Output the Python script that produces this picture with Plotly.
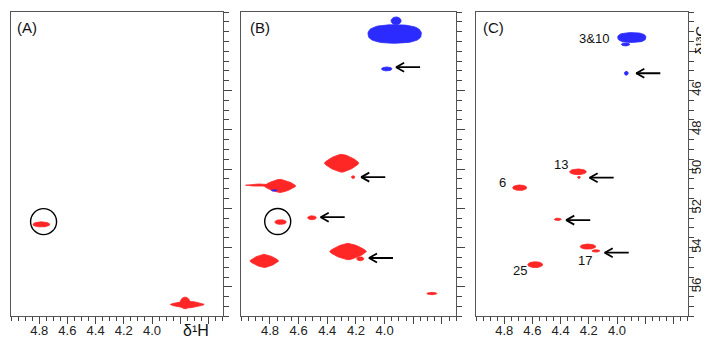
import numpy as np
import plotly.graph_objects as go

W, H = 709, 339
X_RANGE = [5.0, 3.5]
Y_RANGE = [57.5, 42.0]

panel_labels = ["(A)", "(B)", "(C)"]
x_tickvals = [4.8, 4.6, 4.4, 4.2, 4.0, 3.8, 3.6]
x_ticktext = ["4.8", "4.6", "4.4", "4.2", "4.0", "", ""]
y_tickvals = [44, 46, 48, 50, 52, 54, 56]
y_ticktext = ["", "46", "48", "50", "52", "54", "56"]

# ---- cross peaks: (dH, dC, half-width dH, half-width dC, phase) ----
# Panel A
a_h = [4.785, 3.750, 3.765]
a_c = [52.82, 56.90, 56.82]
a_wh = [0.060, 0.120, 0.035]
a_wc = [0.13, 0.18, 0.30]
a_phase = ["pos", "pos", "pos"]

# Panel B
b_h = [3.930, 3.920, 3.985, 4.300, 4.220, 4.730, 4.870, 4.770, 4.726, 4.507, 4.255, 4.170, 4.840, 3.670]
b_c = [43.12, 42.45, 44.90, 49.70, 50.41, 50.86, 50.82, 51.09, 52.70, 52.48, 54.20, 54.57, 54.68, 56.34]
b_wh = [0.186, 0.035, 0.037, 0.120, 0.012, 0.110, 0.100, 0.020, 0.040, 0.030, 0.128, 0.025, 0.100, 0.035]
b_wc = [0.47, 0.20, 0.10, 0.46, 0.07, 0.34, 0.06, 0.04, 0.12, 0.10, 0.42, 0.10, 0.34, 0.06]
b_phase = ["neg", "neg", "neg", "pos", "pos", "pos", "pos", "neg", "pos", "pos", "pos", "pos", "pos", "pos"]

# Panel C
c_h = [3.895, 3.940, 3.934, 4.277, 4.270, 4.690, 4.420, 4.206, 4.150, 4.580]
c_c = [43.30, 43.65, 45.12, 50.14, 50.42, 50.95, 52.56, 53.95, 54.17, 54.87]
c_wh = [0.100, 0.030, 0.014, 0.059, 0.010, 0.050, 0.025, 0.055, 0.028, 0.053]
c_wc = [0.25, 0.08, 0.10, 0.145, 0.06, 0.14, 0.06, 0.13, 0.06, 0.15]
c_phase = ["neg", "neg", "neg", "pos", "pos", "pos", "pos", "pos", "pos", "pos"]

# ---- arrows (tip position dH, dC) ----
b_arrow_h = [3.920, 4.163, 4.446, 4.109]
b_arrow_c = [44.81, 50.41, 52.45, 54.53]
c_arrow_h = [3.863, 4.194, 4.360, 4.087]
c_arrow_c = [45.12, 50.44, 52.60, 54.26]

# ---- circles (centre dH, dC) ----
a_circle_h = [4.769]
a_circle_c = [52.68]
b_circle_h = [4.746]
b_circle_c = [52.67]

# ---- peak assignment labels ----
c_label_text = ["3&10", "13", "6", "17", "25"]
c_label_h = [4.043, 4.396, 4.815, 4.230, 4.690]
c_label_c = [43.36, 49.77, 50.70, 54.65, 55.19]
c_label_anchor = ["right", "center", "center", "center", "center"]

# ---------------- layout geometry (pixels) ----------------
dom_px = [(3.0, 214.5), (233.3, 448.3), (468.0, 679.5)]
y_px = (4.0, 308.3)
COLORS = {"pos": "#ff2626", "neg": "#2b2bff"}

fig = go.Figure()


def sx(i):
    a, b = dom_px[i]
    return (b - a) / abs(X_RANGE[0] - X_RANGE[1])


SY = (y_px[1] - y_px[0]) / abs(Y_RANGE[0] - Y_RANGE[1])


def blob(h, c, wh, wc, phase):
    t = np.linspace(0, 2 * np.pi, 72)
    if wh <= 0.08:
        p = 1.0
    elif phase == "neg":
        p = 0.8
    else:
        p = 1.5
    ct, st = np.cos(t), np.sin(t)
    xs = h + wh * np.sign(ct) * np.abs(ct) ** p
    ys = c + wc * np.sign(st) * np.abs(st) ** p
    return xs, ys


panels = [
    (a_h, a_c, a_wh, a_wc, a_phase),
    (b_h, b_c, b_wh, b_wc, b_phase),
    (c_h, c_c, c_wh, c_wc, c_phase),
]

for i, (hh, cc, wh, wc, ph) in enumerate(panels):
    xa = "x" if i == 0 else f"x{i+1}"
    ya = "y" if i == 0 else f"y{i+1}"
    for j in range(len(hh)):
        xs, ys = blob(hh[j], cc[j], wh[j], wc[j], ph[j])
        col = COLORS[ph[j]]
        fig.add_trace(go.Scatter(
            x=xs, y=ys, xaxis=xa, yaxis=ya, mode="lines", fill="toself",
            fillcolor=col, line=dict(color=col, width=0.8),
            hoverinfo="skip", showlegend=False))

# arrows
for i, (ah, ac) in [(1, (b_arrow_h, b_arrow_c)), (2, (c_arrow_h, c_arrow_c))]:
    xa = f"x{i+1}"
    ya = f"y{i+1}"
    s = sx(i)
    L, hx, hy = 24 / s, 8 / s, 4.5 / SY
    xs, ys = [], []
    for h, c in zip(ah, ac):
        xs += [h - L, h, None, h - hx, h, h - hx, None]
        ys += [c, c, None, c - hy, c, c + hy, None]
    fig.add_trace(go.Scatter(
        x=xs, y=ys, xaxis=xa, yaxis=ya, mode="lines",
        line=dict(color="black", width=1.8), hoverinfo="skip", showlegend=False))

# circles
shapes = []
for i, (ch, cc) in [(0, (a_circle_h, a_circle_c)), (1, (b_circle_h, b_circle_c))]:
    xr = "x" if i == 0 else f"x{i+1}"
    yr = "y" if i == 0 else f"y{i+1}"
    rx, ry = 13 / sx(i), 13 / SY
    for h, c in zip(ch, cc):
        shapes.append(dict(type="circle", xref=xr, yref=yr,
                           x0=h - rx, x1=h + rx, y0=c - ry, y1=c + ry,
                           line=dict(color="black", width=1.4)))

annotations = []
FONT = "Liberation Sans, Arial, sans-serif"
for t, h, c, anc in zip(c_label_text, c_label_h, c_label_c, c_label_anchor):
    annotations.append(dict(text=t, x=h, y=c, xref="x3", yref="y3",
                            xanchor=anc, yanchor="middle", showarrow=False,
                            font=dict(family=FONT, size=13, color="#111")))

label_px = [(7, 20), (240, 20), (473, 20)]
for t, (px, py) in zip(panel_labels, label_px):
    annotations.append(dict(text=t, x=px / W, y=1 - py / H, xref="paper", yref="paper",
                            xanchor="left", yanchor="middle", showarrow=False,
                            font=dict(family=FONT, size=15, color="#111")))

annotations.append(dict(text="δ¹H", x=188 / W, y=1 - 322 / H,
                        xref="paper", yref="paper", xanchor="center", yanchor="middle",
                        showarrow=False, font=dict(family=FONT, size=16, color="#111")))
annotations.append(dict(text="δ¹³C", x=692 / W, y=1 - 33 / H, textangle=-90,
                        xref="paper", yref="paper", xanchor="center", yanchor="middle",
                        showarrow=False, font=dict(family=FONT, size=15, color="#111")))

layout = dict(
    width=W, height=H, margin=dict(l=0, r=0, t=0, b=0),
    paper_bgcolor="white", plot_bgcolor="white",
    shapes=shapes, annotations=annotations, showlegend=False,
)

for i in range(3):
    xk = "xaxis" if i == 0 else f"xaxis{i+1}"
    yk = "yaxis" if i == 0 else f"yaxis{i+1}"
    a, b = dom_px[i]
    layout[xk] = dict(
        domain=[a / W, b / W], range=X_RANGE, anchor="y" if i == 0 else f"y{i+1}",
        tickmode="array", tickvals=x_tickvals, ticktext=x_ticktext,
        ticks="outside", ticklen=7, tickwidth=1, tickcolor="#444",
        ticklabelstandoff=-5,
        minor=dict(tickmode="linear", tick0=5.0, dtick=0.05, ticks="outside",
                   ticklen=4, tickcolor="#444", showgrid=False),
        showline=True, linecolor="#555", linewidth=1.3, mirror=True,
        showgrid=False, zeroline=False,
        tickfont=dict(family=FONT, size=13, color="#222"),
    )
    layout[yk] = dict(
        domain=[1 - y_px[1] / H, 1 - y_px[0] / H], range=Y_RANGE,
        anchor="x" if i == 0 else f"x{i+1}", side="right",
        tickmode="array", tickvals=y_tickvals, ticktext=y_ticktext,
        ticks="outside", ticklen=8, tickwidth=1, tickcolor="#444",
        ticklabelstandoff=-11,
        minor=dict(tickmode="linear", tick0=42.0, dtick=0.5, ticks="outside",
                   ticklen=5, tickcolor="#444", showgrid=False),
        showline=True, linecolor="#555", linewidth=1.3, mirror=True,
        showgrid=False, zeroline=False, showticklabels=(i == 2), tickangle=-90,
        tickfont=dict(family=FONT, size=13, color="#222"),
    )

fig.update_layout(**layout)
fig.write_html("out.html")
